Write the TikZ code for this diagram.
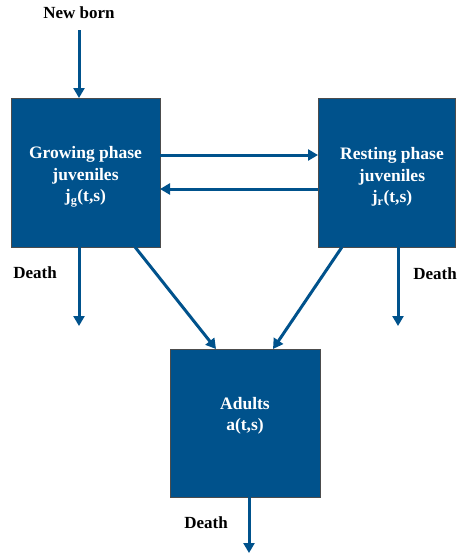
\documentclass[tikz,border=0pt]{standalone}
\usepackage{fontspec}
\setmainfont{Liberation Serif}
\usetikzlibrary{arrows.meta}
\definecolor{boxblue}{RGB}{0,82,140}
\begin{document}
\begin{tikzpicture}[x=1pt,y=-1pt,
  box/.style={draw=black!70,line width=0.6pt,fill=boxblue},
  boxtext/.style={text=white,font=\bfseries\fontsize{17.5}{21.5}\selectfont,align=center},
  lbl/.style={text=black,font=\bfseries\fontsize{17}{20}\selectfont},
  flow/.style={draw=boxblue,line width=3pt,-{Triangle[length=10pt,width=11pt]}}]
\useasboundingbox (0,0) rectangle (457,555);
\path[box] (11,98) rectangle (160,247);
\path[box] (318,98) rectangle (455,247);
\path[box] (170,349) rectangle (320,497);
\node[boxtext] (g) at (85.5,177) {Growing phase\\juveniles\\j\textsubscript{g}(t,s)};
\node[boxtext] (r) at (392,177) {Resting phase\\juveniles\\j\textsubscript{r}(t,s)};
\node[boxtext] (a) at (245,416) {Adults\\a(t,s)};
\node[lbl] (nb) at (79,13) {New born};
\node[lbl] (d1) at (35,273) {Death};
\node[lbl] (d2) at (435,274) {Death};
\node[lbl] (d3) at (206,523) {Death};
\coordinate (nbs) at (79,30); \coordinate (nbe) at (79,98);
\coordinate (gr1) at (160,155); \coordinate (gr2) at (318,155);
\coordinate (rg1) at (318,189); \coordinate (rg2) at (160,189);
\coordinate (gd1) at (79,247); \coordinate (gd2) at (79,326);
\coordinate (rd1) at (398,247); \coordinate (rd2) at (398,326);
\coordinate (ga1) at (135,247); \coordinate (ga2) at (216,349);
\coordinate (ra1) at (342,247); \coordinate (ra2) at (273,349);
\coordinate (ad1) at (249,497); \coordinate (ad2) at (249,553);
\draw[flow] (nbs) -- (nbe);
\draw[flow] (gr1) -- (gr2);
\draw[flow] (rg1) -- (rg2);
\draw[flow] (gd1) -- (gd2);
\draw[flow] (rd1) -- (rd2);
\draw[flow] (ga1) -- (ga2);
\draw[flow] (ra1) -- (ra2);
\draw[flow] (ad1) -- (ad2);
\end{tikzpicture}
\end{document}
